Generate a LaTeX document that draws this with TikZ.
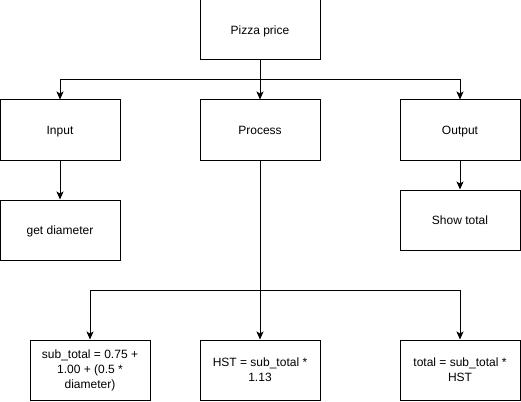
\documentclass[tikz,border=0pt]{standalone}
\usepackage{fontspec}
\setmainfont{Liberation Sans}
\usepackage{tikz}
\usetikzlibrary{arrows.meta}

\begin{document}
\begin{tikzpicture}[x=1pt, y=-1pt, every node/.style={rectangle, draw, line width=1pt}]
        \useasboundingbox (0,0) rectangle (521,401);
        \tikzset{every node/.style={draw, line width=1pt, minimum width=120pt, minimum height=60pt, inner sep=2pt, font=\fontsize{12}{15}\selectfont, align=center}}
        \tikzset{oneline/.style={text height=9pt, text depth=0.5pt}}
        \node [oneline] (pizza) at (260, 30) {Pizza price};
        \node [oneline] (input) at (60, 130) {Input};
        \node [oneline] (process) at (260, 130) {Process};
        \node [oneline] (output) at (460, 130) {Output};
        \node [oneline] (diam) at (60, 230) {get diameter};
        \node [oneline] (show) at (460, 220) {Show total};
        \node (sub) at (90, 370) {sub\_total = 0.75 +\\ 1.00 + (0.5 *\\ diameter)};
        \node (hst) at (260, 370) {HST = sub\_total *\\ 1.13};
        \node (tot) at (460, 370) {total = sub\_total *\\ HST};
        % branch points
        \coordinate (top) at (260, 80);
        \coordinate (mid) at (260, 290);
        \tikzset{mystyle/.style={-{Stealth[length=8pt, width=7pt, inset=2pt]}, line width=1pt}}
        \draw [line width=1pt] (pizza) -- (top);
        \draw [mystyle] (top) -| (input);
        \draw [mystyle] (pizza) -- (process);
        \draw [mystyle] (top) -| (output);
        \draw [mystyle] (input) -- (diam);
        \draw [mystyle] (output) -- (show);
        \draw [mystyle] (process) -- (hst);
        \draw [mystyle] (mid) -| (sub);
        \draw [mystyle] (mid) -| (tot);
      \end{tikzpicture}
\end{document}
